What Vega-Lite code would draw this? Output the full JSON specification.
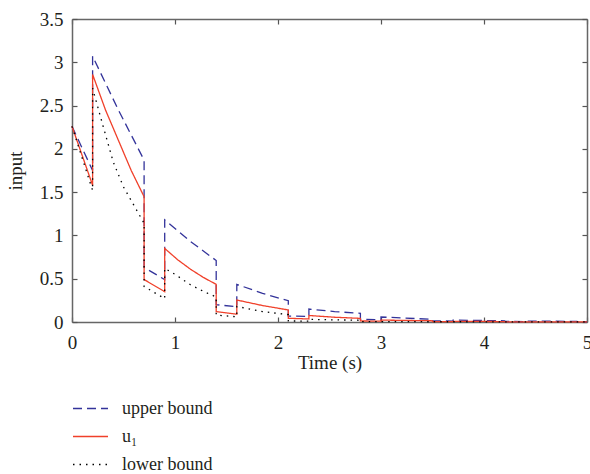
{
  "$schema": "https://vega.github.io/schema/vega-lite/v6.json",
  "width": 515,
  "height": 303,
  "autosize": {"type": "none"},
  "padding": {"left": 72, "top": 19, "right": 3, "bottom": 152},
  "config": {
    "view": {"stroke": null},
    "font": "Liberation Serif",
    "axis": {
      "domainColor": "#666666",
      "domainWidth": 1.5,
      "tickColor": "#555555",
      "tickWidth": 1.2,
      "tickSize": -5,
      "grid": false,
      "labelFont": "Liberation Serif",
      "labelFontSize": 19,
      "labelColor": "#231f20",
      "titleFont": "Liberation Serif",
      "titleFontSize": 19,
      "titleFontWeight": "normal",
      "titleColor": "#231f20"
    },
    "legend": {"labelFont": "Liberation Serif"}
  },
  "data": {
    "values": [
      {"s": "upper bound", "i": 0, "t": 0, "v": 2.26},
      {"s": "upper bound", "i": 1, "t": 0.2, "v": 1.75},
      {"s": "upper bound", "i": 2, "t": 0.2, "v": 3.07},
      {"s": "upper bound", "i": 3, "t": 0.45, "v": 2.45},
      {"s": "upper bound", "i": 4, "t": 0.7, "v": 1.87},
      {"s": "upper bound", "i": 5, "t": 0.7, "v": 0.63},
      {"s": "upper bound", "i": 6, "t": 0.9, "v": 0.49},
      {"s": "upper bound", "i": 7, "t": 0.9, "v": 1.18},
      {"s": "upper bound", "i": 8, "t": 1.15, "v": 0.93},
      {"s": "upper bound", "i": 9, "t": 1.4, "v": 0.71},
      {"s": "upper bound", "i": 10, "t": 1.4, "v": 0.2},
      {"s": "upper bound", "i": 11, "t": 1.6, "v": 0.177},
      {"s": "upper bound", "i": 12, "t": 1.6, "v": 0.435},
      {"s": "upper bound", "i": 13, "t": 1.85, "v": 0.33},
      {"s": "upper bound", "i": 14, "t": 2.1, "v": 0.246},
      {"s": "upper bound", "i": 15, "t": 2.1, "v": 0.069},
      {"s": "upper bound", "i": 16, "t": 2.3, "v": 0.063},
      {"s": "upper bound", "i": 17, "t": 2.3, "v": 0.15},
      {"s": "upper bound", "i": 18, "t": 2.55, "v": 0.12},
      {"s": "upper bound", "i": 19, "t": 2.8, "v": 0.1},
      {"s": "upper bound", "i": 20, "t": 2.8, "v": 0.03},
      {"s": "upper bound", "i": 21, "t": 3.0, "v": 0.026},
      {"s": "upper bound", "i": 22, "t": 3.0, "v": 0.058},
      {"s": "upper bound", "i": 23, "t": 3.5, "v": 0.031},
      {"s": "upper bound", "i": 24, "t": 3.5, "v": 0.012},
      {"s": "upper bound", "i": 25, "t": 3.7, "v": 0.011},
      {"s": "upper bound", "i": 26, "t": 3.7, "v": 0.022},
      {"s": "upper bound", "i": 27, "t": 4.2, "v": 0.014},
      {"s": "upper bound", "i": 28, "t": 4.2, "v": 0.006},
      {"s": "upper bound", "i": 29, "t": 4.4, "v": 0.005},
      {"s": "upper bound", "i": 30, "t": 4.4, "v": 0.011},
      {"s": "upper bound", "i": 31, "t": 4.9, "v": 0.007},
      {"s": "upper bound", "i": 32, "t": 4.9, "v": 0.003},
      {"s": "upper bound", "i": 33, "t": 5.0, "v": 0.003},
      {"s": "u₁", "i": 0, "t": 0, "v": 2.26},
      {"s": "u₁", "i": 1, "t": 0.2, "v": 1.58},
      {"s": "u₁", "i": 2, "t": 0.2, "v": 2.86},
      {"s": "u₁", "i": 3, "t": 0.325, "v": 2.45},
      {"s": "u₁", "i": 4, "t": 0.45, "v": 2.1},
      {"s": "u₁", "i": 5, "t": 0.575, "v": 1.75},
      {"s": "u₁", "i": 6, "t": 0.7, "v": 1.447},
      {"s": "u₁", "i": 7, "t": 0.7, "v": 0.49},
      {"s": "u₁", "i": 8, "t": 0.9, "v": 0.35},
      {"s": "u₁", "i": 9, "t": 0.9, "v": 0.85},
      {"s": "u₁", "i": 10, "t": 1.025, "v": 0.72},
      {"s": "u₁", "i": 11, "t": 1.15, "v": 0.61},
      {"s": "u₁", "i": 12, "t": 1.275, "v": 0.515},
      {"s": "u₁", "i": 13, "t": 1.4, "v": 0.435},
      {"s": "u₁", "i": 14, "t": 1.4, "v": 0.12},
      {"s": "u₁", "i": 15, "t": 1.6, "v": 0.09},
      {"s": "u₁", "i": 16, "t": 1.6, "v": 0.254},
      {"s": "u₁", "i": 17, "t": 1.85, "v": 0.19},
      {"s": "u₁", "i": 18, "t": 2.1, "v": 0.139},
      {"s": "u₁", "i": 19, "t": 2.1, "v": 0.043},
      {"s": "u₁", "i": 20, "t": 2.3, "v": 0.035},
      {"s": "u₁", "i": 21, "t": 2.3, "v": 0.075},
      {"s": "u₁", "i": 22, "t": 2.55, "v": 0.055},
      {"s": "u₁", "i": 23, "t": 2.8, "v": 0.042},
      {"s": "u₁", "i": 24, "t": 2.8, "v": 0.012},
      {"s": "u₁", "i": 25, "t": 3.0, "v": 0.01},
      {"s": "u₁", "i": 26, "t": 3.0, "v": 0.022},
      {"s": "u₁", "i": 27, "t": 3.5, "v": 0.014},
      {"s": "u₁", "i": 28, "t": 3.5, "v": 0.004},
      {"s": "u₁", "i": 29, "t": 3.7, "v": 0.004},
      {"s": "u₁", "i": 30, "t": 3.7, "v": 0.008},
      {"s": "u₁", "i": 31, "t": 4.2, "v": 0.005},
      {"s": "u₁", "i": 32, "t": 4.2, "v": 0.002},
      {"s": "u₁", "i": 33, "t": 5.0, "v": 0.001},
      {"s": "lower bound", "i": 0, "t": 0, "v": 2.26},
      {"s": "lower bound", "i": 1, "t": 0.2, "v": 1.52},
      {"s": "lower bound", "i": 2, "t": 0.2, "v": 2.7},
      {"s": "lower bound", "i": 3, "t": 0.3, "v": 2.27},
      {"s": "lower bound", "i": 4, "t": 0.4, "v": 1.85},
      {"s": "lower bound", "i": 5, "t": 0.5, "v": 1.56},
      {"s": "lower bound", "i": 6, "t": 0.6, "v": 1.35},
      {"s": "lower bound", "i": 7, "t": 0.7, "v": 1.14},
      {"s": "lower bound", "i": 8, "t": 0.7, "v": 0.41},
      {"s": "lower bound", "i": 9, "t": 0.9, "v": 0.27},
      {"s": "lower bound", "i": 10, "t": 0.9, "v": 0.62},
      {"s": "lower bound", "i": 11, "t": 1.0, "v": 0.55},
      {"s": "lower bound", "i": 12, "t": 1.15, "v": 0.43},
      {"s": "lower bound", "i": 13, "t": 1.3, "v": 0.34},
      {"s": "lower bound", "i": 14, "t": 1.4, "v": 0.29},
      {"s": "lower bound", "i": 15, "t": 1.4, "v": 0.08},
      {"s": "lower bound", "i": 16, "t": 1.6, "v": 0.06},
      {"s": "lower bound", "i": 17, "t": 1.6, "v": 0.18},
      {"s": "lower bound", "i": 18, "t": 1.85, "v": 0.12},
      {"s": "lower bound", "i": 19, "t": 2.1, "v": 0.085},
      {"s": "lower bound", "i": 20, "t": 2.1, "v": 0.012},
      {"s": "lower bound", "i": 21, "t": 2.3, "v": 0.01},
      {"s": "lower bound", "i": 22, "t": 2.3, "v": 0.03},
      {"s": "lower bound", "i": 23, "t": 2.8, "v": 0.02},
      {"s": "lower bound", "i": 24, "t": 2.8, "v": 0.004},
      {"s": "lower bound", "i": 25, "t": 5.0, "v": 0.001}
    ]
  },
  "layer": [
    {
      "mark": {"type": "line", "strokeWidth": 1.3},
      "encoding": {
        "x": {
          "field": "t", "type": "quantitative",
          "scale": {"domain": [0, 5], "nice": false, "zero": false},
          "axis": {"title": "Time (s)", "values": [0, 1, 2, 3, 4, 5], "format": "~g", "labelPadding": 16, "titlePadding": 1, "labelFlush": false}
        },
        "y": {
          "field": "v", "type": "quantitative",
          "scale": {"domain": [0, 3.5], "nice": false},
          "axis": {"title": "input", "values": [0, 0.5, 1, 1.5, 2, 2.5, 3, 3.5], "format": "~g", "labelPadding": 14, "titlePadding": 14}
        },
        "color": {
          "field": "s", "type": "nominal",
          "scale": {"domain": ["upper bound", "u₁", "lower bound"], "range": ["#33339a", "#f0402a", "#000000"]},
          "legend": {
            "title": null, "orient": "none", "legendX": 0, "legendY": 371,
            "symbolType": "stroke", "symbolSize": 1225, "symbolStrokeWidth": 1.3,
            "labelFont": "Liberation Serif", "labelFontSize": 18, "labelColor": "#231f20",
            "labelOffset": 13, "rowPadding": -9
          }
        },
        "strokeDash": {
          "field": "s", "type": "nominal",
          "scale": {"domain": ["upper bound", "u₁", "lower bound"], "range": [[9, 5], [1, 0], [1.5, 5]]},
          "legend": {
            "title": null, "orient": "none", "legendX": 0, "legendY": 371,
            "symbolType": "stroke", "symbolSize": 1225, "symbolStrokeWidth": 1.3,
            "labelFont": "Liberation Serif", "labelFontSize": 18, "labelColor": "#231f20",
            "labelOffset": 13, "rowPadding": -9
          }
        },
        "order": {"field": "i", "type": "quantitative"}
      }
    },
    {
      "mark": {"type": "line", "opacity": 0},
      "encoding": {
        "x": {"field": "t", "type": "quantitative", "axis": {"orient": "top", "labels": false, "title": null, "values": [0, 1, 2, 3, 4, 5]}},
        "y": {"field": "v", "type": "quantitative", "axis": {"orient": "right", "labels": false, "title": null, "values": [0, 0.5, 1, 1.5, 2, 2.5, 3, 3.5]}},
        "detail": {"field": "s"},
        "order": {"field": "i", "type": "quantitative"}
      }
    }
  ],
  "resolve": {"axis": {"x": "independent", "y": "independent"}}
}
